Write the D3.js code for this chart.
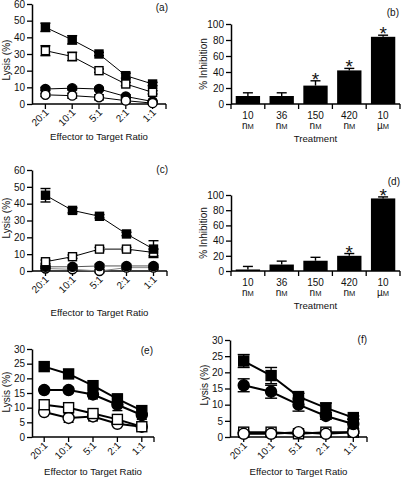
<!DOCTYPE html>
<html><head><meta charset="utf-8">
<script src="https://cdn.jsdelivr.net/npm/d3@7"></script>
<style>
body{margin:0;background:#fff}
svg{display:block;font-family:"Liberation Sans",Arial,Helvetica,sans-serif}
</style></head>
<body><svg id="c" width="403" height="478"></svg>
<script>
// ---------- data ----------
const ratios = ["20:1","10:1","5:1","2:1","1:1"];
const treatments = [["10","nM"],["36","nM"],["150","nM"],["420","nM"],["10","µM"]];
const lysisTicksA = [0,10,20,30,40,50,60];
const lysisTicksE = [0,5,10,15,20,25,30];
const inhibTicks = [0,20,40,60,80,100];

// panel (a)
const aFilledSq = [46, 38.5, 30, 17, 12];    const aFilledSqErr = [2.5, 2.5, 1, 1.5, 1];
const aOpenSq = [32, 28.5, 20, 12, 7];       const aOpenSqErr = [3, 2.5, 1, 1, 1];
const aFilledCirc = [9, 9.5, 9, 4.5, 1.5];   const aFilledCircErr = [1, 1, 1, 1, 0.5];
const aOpenCirc = [5.5, 5, 4, 2, 0.5];       const aOpenCircErr = [1, 1.5, 1.5, 1, 0.5];
// panel (b)
const bInhib = [10, 10, 23, 42, 84];         const bInhibErr = [4, 4, 6, 2.5, 2];
const bSig = [false, false, true, true, true];
// panel (c)
const cFilledSq = [45, 36, 32.5, 22, 13];    const cFilledSqErr = [4, 1.5, 1, 1, 5];
const cOpenSq = [5.5, 8.5, 13, 13, 11];      const cOpenSqErr = [1, 1, 1, 1, 2];
const cFilledCirc = [2.5, 2.5, 3, 3, 3];     const cFilledCircErr = [1, 1, 1, 1, 1];
const cOpenCirc = [1.5, 1, 0, 2, 2];         const cOpenCircErr = [1, 1, 1, 1, 1];
// panel (d)
const dInhib = [2, 8.5, 13.5, 20, 95.5];     const dInhibErr = [4, 4.5, 4.5, 3, 2];
const dSig = [false, false, false, true, true];
// panel (e)
const eFilledSq = [24, 21.5, 17.5, 13, 9];   const eFilledSqErr = [0.5, 0.5, 1.5, 1.5, 1.5];
const eFilledCirc = [16, 16, 14.5, 11, 7.5]; const eFilledCircErr = [1, 1, 1.5, 2, 1.5];
const eOpenSq = [11, 10, 8, 6, 3.5];         const eOpenSqErr = [1, 1.5, 1, 0.5, 0.5];
const eOpenCirc = [8.5, 6.5, 7, 4.5, 3.5];   const eOpenCircErr = [0.5, 1.5, 1.5, 0.5, 0.5];
// panel (f)
const fFilledSq = [23.5, 19, 12.5, 9, 6];    const fFilledSqErr = [2, 2.5, 1, 1.5, 0.5];
const fFilledCirc = [16, 14, 10, 6.5, 4];    const fFilledCircErr = [2, 2, 2, 1, 1.5];
const fOpenSq = [1.5, 1.5, 1, 1.5, 1.5];     const fOpenSqErr = [0.3, 0.3, 0.3, 0.3, 0.3];
const fOpenCirc = [1, 1, 1.5, 1, 1.5];       const fOpenCircErr = [0.3, 0.3, 0.3, 0.3, 0.3];

// ---------- drawing ----------
const svg = d3.select("#c");
const FONT = 10;

function yAxis(g, y, ticks, x0) {
  const ax = g.append("g").attr("transform", `translate(${x0},0)`)
    .call(d3.axisLeft(y).tickValues(ticks).tickSize(5).tickPadding(2).tickSizeOuter(0));
  ax.select(".domain").attr("stroke-width", 1.5);
  ax.selectAll(".tick line").attr("stroke-width", 1.3);
  ax.selectAll("text").attr("font-size", FONT).attr("font-family", null).attr("fill", "#111");
}

function linePanel(o) {
  const g = svg.append("g");
  const x = d3.scalePoint().domain(ratios).range([o.x0, o.x1]).padding(0.5);
  const y = d3.scaleLinear().domain([0, o.ymax]).range([o.yb, o.yt]);
  yAxis(g, y, o.ticks, o.x0);
  g.append("line").attr("x1", o.x0).attr("x2", o.x1).attr("y1", o.yb).attr("y2", o.yb)
    .attr("stroke", "#000").attr("stroke-width", 1.5);
  const tx = ratios.map(r => x(r)).concat([o.x1]);
  g.selectAll(".xt").data(tx).join("line").attr("x1", d => d).attr("x2", d => d)
    .attr("y1", o.yb).attr("y2", o.yb + 5).attr("stroke", "#000").attr("stroke-width", 1.3);
  g.selectAll(".xl").data(ratios).join("text")
    .attr("transform", d => `translate(${x(d) + 4},${o.yb + 9}) rotate(-45)`)
    .attr("text-anchor", "end").attr("font-size", FONT).attr("fill", "#111").text(d => d);
  g.append("text").attr("x", (o.x0 + o.x1) / 2).attr("y", o.titleY).attr("text-anchor", "middle")
    .attr("font-size", 9.6).attr("fill", "#111").text("Effector to Target Ratio");
  g.append("text").attr("transform", `translate(${o.ylx},${o.ylc}) rotate(-90)`)
    .attr("text-anchor", "middle").attr("font-size", FONT).attr("fill", "#111").text("Lysis (%)");
  g.append("text").attr("x", o.labX).attr("y", o.labY).attr("text-anchor", "end")
    .attr("font-size", FONT).attr("fill", "#111").text(o.label);

  const line = d3.line().x((d, i) => x(ratios[i])).y(d => y(d));
  o.series.forEach(s => {
    g.append("path").datum(s.v).attr("d", line).attr("fill", "none")
      .attr("stroke", s.lineColor || "#000").attr("stroke-width", o.lw);
  });
  o.series.forEach(s => {
    const eg = g.append("g").attr("stroke", "#000").attr("stroke-width", 1.4);
    s.v.forEach((v, i) => {
      const cx = x(ratios[i]), e = s.e[i];
      eg.append("line").attr("x1", cx).attr("x2", cx).attr("y1", y(v - e)).attr("y2", y(v + e));
      [v - e, v + e].forEach(w => eg.append("line").attr("x1", cx - o.cap).attr("x2", cx + o.cap)
        .attr("y1", y(w)).attr("y2", y(w)));
    });
  });
  o.series.forEach(s => {
    const fill = s.filled ? "#000" : "#fff";
    const mg = g.append("g");
    if (s.shape === "sq") {
      mg.selectAll("rect").data(s.v).join("rect")
        .attr("x", (d, i) => x(ratios[i]) - o.ms / 2).attr("y", d => y(d) - o.ms / 2)
        .attr("width", o.ms).attr("height", o.ms).attr("fill", fill)
        .attr("stroke", "#000").attr("stroke-width", 1.4);
    } else {
      mg.selectAll("circle").data(s.v).join("circle")
        .attr("cx", (d, i) => x(ratios[i])).attr("cy", d => y(d)).attr("r", o.ms / 2 + 0.5)
        .attr("fill", fill).attr("stroke", "#000").attr("stroke-width", 1.4);
    }
  });
}

function barPanel(o) {
  const g = svg.append("g");
  const x = d3.scaleBand().domain(d3.range(5)).range([o.x0, o.x1]).paddingInner(0.28).paddingOuter(0.14);
  const y = d3.scaleLinear().domain([0, 100]).range([o.yb, o.yt]);
  yAxis(g, y, inhibTicks, o.x0);
  g.append("line").attr("x1", o.x0).attr("x2", o.x1).attr("y1", o.yb).attr("y2", o.yb)
    .attr("stroke", "#000").attr("stroke-width", 1.5);
  const step = (o.x1 - o.x0) / 5;
  g.selectAll(".xt").data(d3.range(6)).join("line")
    .attr("x1", d => o.x0 + d * step).attr("x2", d => o.x0 + d * step)
    .attr("y1", o.yb).attr("y2", o.yb + 5).attr("stroke", "#000").attr("stroke-width", 1.3);
  g.selectAll(".bar").data(o.v).join("rect")
    .attr("x", (d, i) => x(i)).attr("width", x.bandwidth())
    .attr("y", d => y(d)).attr("height", d => o.yb - y(d)).attr("fill", "#000");
  o.v.forEach((v, i) => {
    const cx = x(i) + x.bandwidth() / 2;
    g.append("line").attr("x1", cx).attr("x2", cx).attr("y1", y(v)).attr("y2", y(v + o.e[i]))
      .attr("stroke", "#000").attr("stroke-width", 1.4);
    g.append("line").attr("x1", cx - 5).attr("x2", cx + 5).attr("y1", y(v + o.e[i])).attr("y2", y(v + o.e[i]))
      .attr("stroke", "#000").attr("stroke-width", 1.4);
    if (o.sig[i]) {
      g.append("text").attr("x", cx).attr("y", y(v + o.e[i]) + 5).attr("text-anchor", "middle")
        .attr("font-size", 19).attr("fill", "#111").text("*");
    }
  });
  treatments.forEach((t, i) => {
    const cx = x(i) + x.bandwidth() / 2;
    g.append("text").attr("x", cx).attr("y", o.yb + 14.5).attr("text-anchor", "middle")
      .attr("font-size", FONT).attr("fill", "#111").text(t[0]);
    const u = g.append("text").attr("x", cx).attr("y", o.yb + 25).attr("text-anchor", "middle")
      .attr("font-size", FONT).attr("fill", "#111");
    u.append("tspan").text(t[1][0]);
    u.append("tspan").attr("font-size", 7.5).text(t[1][1]);
  });
  g.append("text").attr("x", (o.x0 + o.x1) / 2).attr("y", o.yb + 37.5).attr("text-anchor", "middle")
    .attr("font-size", 9.6).attr("fill", "#111").text("Treatment");
  g.append("text").attr("transform", `translate(${o.ylx},${(o.yt + o.yb) / 2}) rotate(-90)`)
    .attr("text-anchor", "middle").attr("font-size", FONT).attr("fill", "#111").text("% Inhibition");
  g.append("text").attr("x", o.labX).attr("y", o.labY).attr("text-anchor", "end")
    .attr("font-size", FONT).attr("fill", "#111").text(o.label);
}

linePanel({x0: 32, x1: 166, yt: 4, yb: 104, ymax: 60, ticks: lysisTicksA, titleY: 139.5,
  ylx: 10, ylc: 60, labX: 168, labY: 11, label: "(a)", lw: 1, cap: 5, ms: 8,
  series: [
    {v: aFilledSq, e: aFilledSqErr, shape: "sq", filled: true},
    {v: aOpenSq, e: aOpenSqErr, shape: "sq", filled: false},
    {v: aFilledCirc, e: aFilledCircErr, shape: "ci", filled: true},
    {v: aOpenCirc, e: aOpenCircErr, shape: "ci", filled: false}]});

barPanel({x0: 231, x1: 400, yt: 24, yb: 104, v: bInhib, e: bInhibErr, sig: bSig,
  ylx: 207, labX: 399, labY: 16, label: "(b)"});

linePanel({x0: 32, x1: 167, yt: 170, yb: 271, ymax: 60, ticks: lysisTicksA, titleY: 316,
  ylx: 10, ylc: 218, labX: 168, labY: 173, label: "(c)", lw: 1, cap: 5, ms: 8,
  series: [
    {v: cOpenCirc, e: cOpenCircErr, shape: "ci", filled: false, lineColor: "#888"},
    {v: cFilledCirc, e: cFilledCircErr, shape: "ci", filled: true, lineColor: "#555"},
    {v: cOpenSq, e: cOpenSqErr, shape: "sq", filled: false},
    {v: cFilledSq, e: cFilledSqErr, shape: "sq", filled: true}]});

barPanel({x0: 231, x1: 400, yt: 195, yb: 271, v: dInhib, e: dInhibErr, sig: dSig,
  ylx: 207, labX: 400, labY: 185, label: "(d)"});

linePanel({x0: 32, x1: 154, yt: 349, yb: 437, ymax: 30, ticks: lysisTicksE, titleY: 475,
  ylx: 10, ylc: 392, labX: 153, labY: 354, label: "(e)", lw: 2, cap: 5, ms: 10,
  series: [
    {v: eOpenCirc, e: eOpenCircErr, shape: "ci", filled: false},
    {v: eOpenSq, e: eOpenSqErr, shape: "sq", filled: false},
    {v: eFilledCirc, e: eFilledCircErr, shape: "ci", filled: true},
    {v: eFilledSq, e: eFilledSqErr, shape: "sq", filled: true}]});

linePanel({x0: 230, x1: 367, yt: 340, yb: 437, ymax: 30, ticks: lysisTicksE, titleY: 475,
  ylx: 208, ylc: 385, labX: 367, labY: 343, label: "(f)", lw: 2, cap: 6, ms: 10,
  series: [
    {v: fOpenSq, e: fOpenSqErr, shape: "sq", filled: false},
    {v: fOpenCirc, e: fOpenCircErr, shape: "ci", filled: false},
    {v: fFilledCirc, e: fFilledCircErr, shape: "ci", filled: true},
    {v: fFilledSq, e: fFilledSqErr, shape: "sq", filled: true}]});
</script></body></html>
